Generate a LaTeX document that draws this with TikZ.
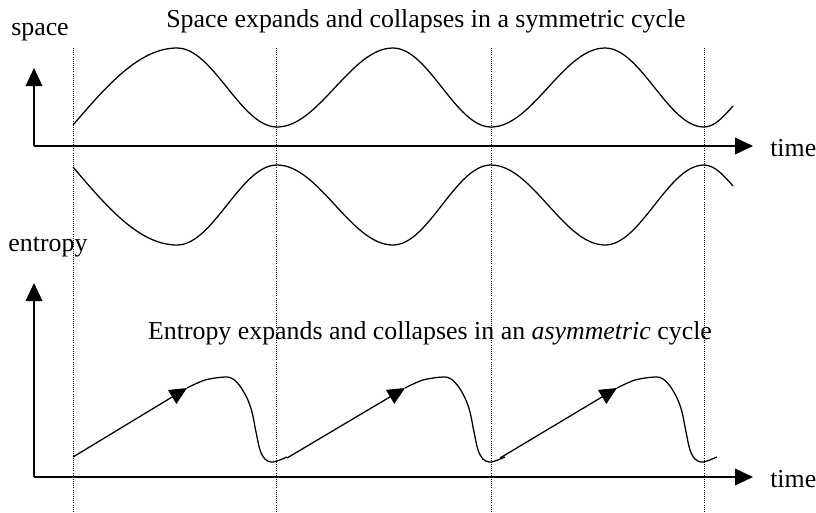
\documentclass[tikz,border=0pt]{standalone}
\usepackage{fontspec}
\setmainfont{Liberation Serif}
\usetikzlibrary{arrows.meta}

\begin{document}
\begin{tikzpicture}[
  x=0.75pt, y=-0.75pt,
  axis/.style={-{Triangle[length=13.5pt,width=12.5pt]}, line width=1.1pt},
  curve/.style={line width=0.95pt},
  guide/.style={densely dotted, line width=0.6pt},
  label/.style={font=\fontsize{19.4}{21}\selectfont, inner sep=0pt},
  trend/.style={curve, -{Triangle[length=13pt,width=12pt]}}
]
\useasboundingbox (0,0) rectangle (816,512);

% cycle boundaries
\foreach \x in {73,276,491,704}
  \draw[guide] (\x,48) -- (\x,512);

% space panel
\coordinate (so) at (34,146);
\draw[axis] (so) -- (34,68);
\draw[axis] (so) -- (753,146);
\node[label] (spacelbl) at (40,32) {space};
\node[label, anchor=west] (stime) at (770,148) {time};
\node[label] (stitle) at (426,21) {Space expands and collapses in a symmetric cycle};

\draw[curve] (73,125) sin (177,48) cos (227,87.5) sin (277,127)
  cos (335,87.5) sin (393,48) cos (442,87.5) sin (491,127)
  cos (548,87.5) sin (605,48) cos (654.5,87.5) sin (704,127) cos (733,106);
\draw[curve] (73,167) sin (177,245) cos (227,205) sin (277,165)
  cos (335,205) sin (393,245) cos (442,205) sin (491,165)
  cos (548,205) sin (605,245) cos (654.5,205) sin (704,165) cos (733,186);

% entropy panel
\coordinate (eo) at (34,477);
\draw[axis] (eo) -- (34,283);
\draw[axis] (eo) -- (753,477);
\node[label] (entlbl) at (48,247) {entropy};
\node[label, anchor=west] (etime) at (770,479) {time};
\node[label] (etitle) at (430,333) {Entropy expands and collapses in an \textit{asymmetric} cycle};

\foreach \p/\s/\t in {225/73/457, 443/287/458, 655/500/458} {
  \draw[trend] (\s,\t) -- (\p-38,388);
  \draw[curve] plot[smooth, tension=0.55] coordinates {
    (\p-38,388) (\p-20,380) (\p,377) (\p+8,379) (\p+15,386) (\p+22,398)
    (\p+27,412) (\p+31,432) (\p+35,450) (\p+40,459) (\p+46,462) (\p+52,461)
    (\p+62,457)};
}
\end{tikzpicture}
\end{document}
